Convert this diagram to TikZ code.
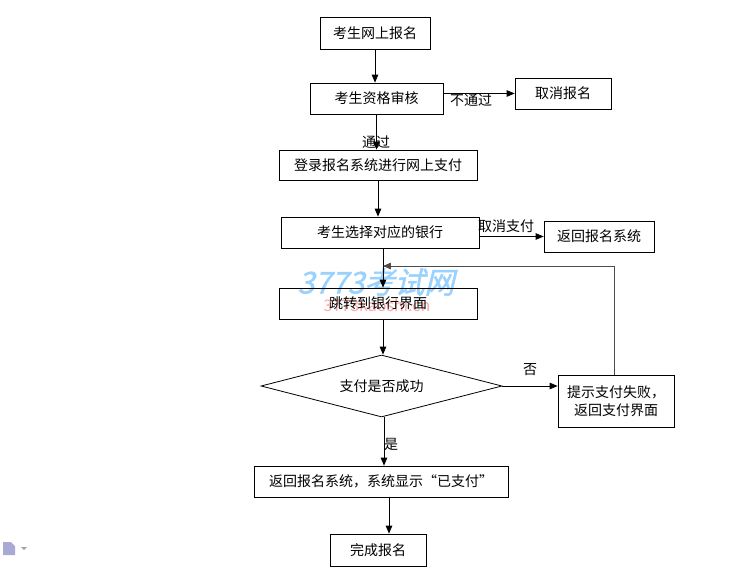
\documentclass[tikz,border=0pt]{standalone}
\usepackage{fontspec}
\setmainfont{Noto Sans CJK SC}
\newfontfamily\markfont[FakeSlant=0.25,FakeBold=1.5]{Noto Sans CJK SC}
\usepackage{tikz}
\usetikzlibrary{arrows,shapes,positioning,calc}
\tikzstyle{box}=[rectangle, draw=black, thick, inner sep=0pt, font=\fontsize{14}{18}\selectfont]
\tikzstyle{decide}=[diamond, shape aspect=3.9, draw=black, thick, inner sep=0pt, font=\fontsize{14}{18}\selectfont]
\tikzstyle{lab}=[inner sep=0pt, font=\fontsize{14}{18}\selectfont]
\tikzstyle{link}=[draw=black, thick, -triangle 45]
\begin{document}
\begin{tikzpicture}[x=1pt, y=-1pt]
        \useasboundingbox (0,0) rectangle (752,577);
        % watermark
        \node at (376,282) [lab, font=\fontsize{30}{32}\selectfont\markfont, text=blue!45!cyan!40] (mark) {3773考试网};
        \node at (377,305) [lab, font=\fontsize{16}{18}\selectfont, text=red!35] (marksub) {3773kaoshi.cn};
        % steps
        \node at (375,33) [box, minimum width=110pt, minimum height=32pt] (signup) {考生网上报名};
        \node at (376.5,98.5) [box, minimum width=133pt, minimum height=31pt] (check) {考生资格审核};
        \node at (563,93.5) [box, minimum width=96pt, minimum height=31pt] (cancel) {取消报名};
        \node at (378,165) [box, minimum width=198pt, minimum height=30pt] (login) {登录报名系统进行网上支付};
        \node at (380,232.5) [box, minimum width=198pt, minimum height=31pt] (bank) {考生选择对应的银行};
        \node at (599,236.5) [box, minimum width=110pt, minimum height=31pt] (back) {返回报名系统};
        \node at (378,303.5) [box, minimum width=198pt, minimum height=31pt] (jump) {跳转到银行界面};
        \node at (381.5,386) [decide, minimum width=241pt, minimum height=62pt] (paid) {支付是否成功};
        \node at (616,401) [box, minimum width=116pt, minimum height=52pt, align=center] (fail) {提示支付失败，\\返回支付界面};
        \node at (381,481.5) [box, minimum width=254pt, minimum height=31pt] (shown) {返回报名系统，系统显示“已支付”};
        \node at (378,550) [box, minimum width=96pt, minimum height=32pt] (done) {完成报名};
        % labels
        \node at (471,100) [lab] (nopass) {不通过};
        \node at (376,142) [lab] (pass) {通过};
        \node at (506,226) [lab] (stop) {取消支付};
        \node at (530,370) [lab] (no) {否};
        \node at (391,444) [lab] (yes) {是};
        % connectors
        \coordinate (rise) at (614,375);
        \coordinate (corner) at (614,266);
        \coordinate (merge) at (383,266);
        \coordinate (yesx) at (384,0);
        \coordinate (endx) at (389,0);
        \draw[link] (signup.south) -- (signup.south |- check.north);
        \draw[link] (check.east |- cancel.west) -- (cancel.west);
        \draw[link] (check.south) -- (check.south |- login.north);
        \draw[link] (login.south) -- (login.south |- bank.north);
        \draw[link] (bank.east |- back.west) -- (back.west);
        \draw[link] (merge |- bank.south) -- (merge |- jump.north);
        \draw[link, draw=black!70] (rise) -- (corner) -- (merge);
        \draw[link] (merge |- jump.south) -- (merge |- paid.north);
        \draw[link] (paid.east) -- (fail.west |- paid.east);
        \draw[link] (yesx |- paid.south) -- (yesx |- shown.north);
        \draw[link] (endx |- shown.south) -- (endx |- done.north);
        % page icon
        \fill[blue!35!gray!50] (3,542) -- (11,542) -- (15,546) -- (15,555) -- (3,555) -- cycle;
        \fill[gray!70] (21,547) -- (27,547) -- (24,550) -- cycle;
\end{tikzpicture}
\end{document}
